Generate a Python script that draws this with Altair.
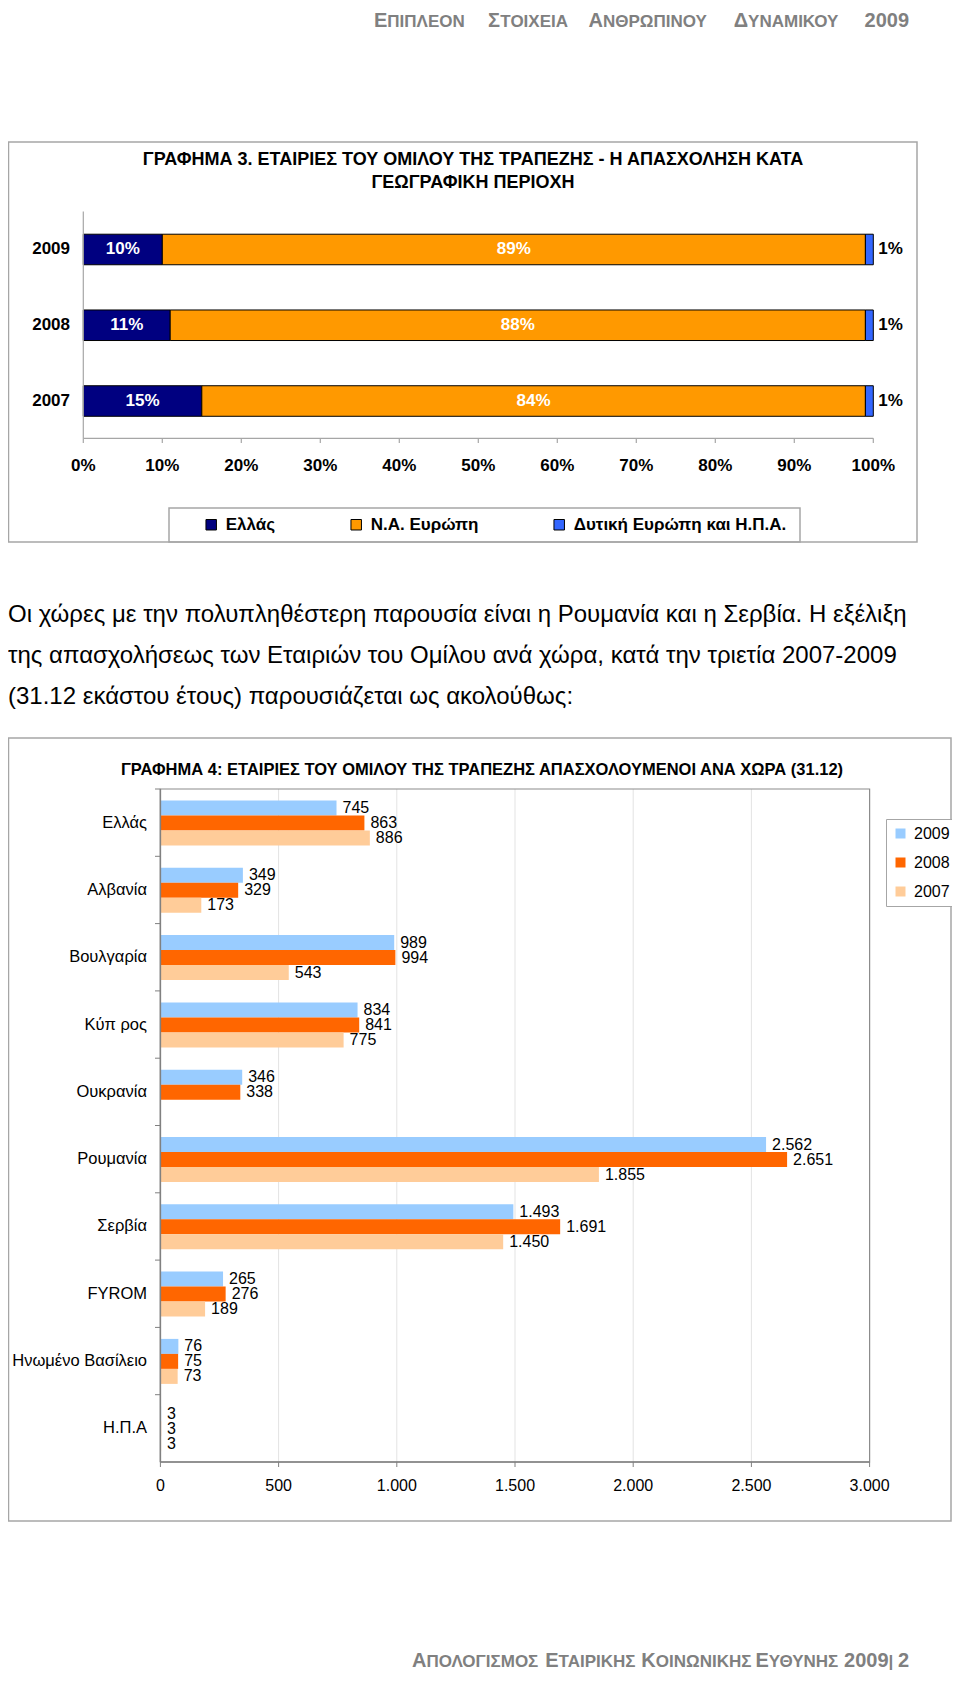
import altair as alt
import pandas as pd

FONT = "Liberation Sans"

# ---------------- Chart 3 data (percent of staff by region) ----------------
years3 = ["2009", "2008", "2007"]
regions3 = ["Ελλάς", "Ν.Α. Ευρώπη", "Δυτική Ευρώπη και Η.Π.Α."]
greece_pct = [10, 11, 15]
se_europe_pct = [89, 88, 84]
west_usa_pct = [1, 1, 1]
region_colors = ["#000080", "#FF9900", "#3366FF"]
pct_ticks = [0, 10, 20, 30, 40, 50, 60, 70, 80, 90, 100]
pct_tick_labels = ["0%", "10%", "20%", "30%", "40%", "50%", "60%", "70%", "80%", "90%", "100%"]

# ---------------- Chart 4 data (staff per country) ----------------
countries = ["Ελλάς", "Αλβανία", "Βουλγαρία", "Κύπ ρος", "Ουκρανία", "Ρουμανία",
             "Σερβία", "FYROM", "Ηνωμένο Βασίλειο", "Η.Π.Α"]
years4 = ["2009", "2008", "2007"]
staff_2009 = [745, 349, 989, 834, 346, 2562, 1493, 265, 76, 3]
staff_2008 = [863, 329, 994, 841, 338, 2651, 1691, 276, 75, 3]
staff_2007 = [886, 173, 543, 775, None, 1855, 1450, 189, 73, 3]
year_colors = ["#99CCFF", "#FF6600", "#FFCC99"]
staff_ticks = [0, 500, 1000, 1500, 2000, 2500, 3000]
staff_tick_labels = ["0", "500", "1.000", "1.500", "2.000", "2.500", "3.000"]

# ---------------- Texts ----------------
header_text = "ΕΠΙΠΛΕΟΝ ΣΤΟΙΧΕΙΑ ΑΝΘΡΩΠΙΝΟΥ ΔΥΝΑΜΙΚΟΥ 2009"
footer_text = "ΑΠΟΛΟΓΙΣΜΟΣ ΕΤΑΙΡΙΚΗΣ ΚΟΙΝΩΝΙΚΗΣ ΕΥΘΥΝΗΣ 2009| 2"
title3_lines = ["ΓΡΑΦΗΜΑ 3. ΕΤΑΙΡΙΕΣ ΤΟΥ ΟΜΙΛΟΥ ΤΗΣ ΤΡΑΠΕΖΗΣ - Η ΑΠΑΣΧΟΛΗΣΗ ΚΑΤΑ",
                "ΓΕΩΓΡΑΦΙΚΗ ΠΕΡΙΟΧΗ"]
title4_text = "ΓΡΑΦΗΜΑ 4: ΕΤΑΙΡΙΕΣ ΤΟΥ ΟΜΙΛΟΥ ΤΗΣ ΤΡΑΠΕΖΗΣ ΑΠΑΣΧΟΛΟΥΜΕΝΟΙ ΑΝΑ ΧΩΡΑ (31.12)"
paragraph_lines = [
    "Οι χώρες με την πολυπληθέστερη παρουσία είναι η Ρουμανία και η Σερβία. Η εξέλιξη",
    "της απασχολήσεως των Εταιριών του Ομίλου ανά χώρα, κατά την τριετία 2007-2009",
    "(31.12 εκάστου έτους) παρουσιάζεται ως ακολούθως:",
]

ONE = pd.DataFrame({"k": [0]})


def page_text(text, x, y, size, weight="normal", align="left", color="black", baseline="alphabetic"):
    return alt.Chart(ONE).mark_text(
        text=text, font=FONT, fontSize=size, fontWeight=weight, align=align,
        baseline=baseline, color=color,
    ).encode(x=alt.value(x), y=alt.value(y))


def frame(x0, x1, y0, y1, color="#A6A6A6", width=1.5):
    return alt.Chart(ONE).mark_rect(filled=False, stroke=color, strokeWidth=width).encode(
        x=alt.value(x0), x2=alt.value(x1), y=alt.value(y0), y2=alt.value(y1))


# approximate Arial Bold advance widths (1/1000 em) for small-caps layout
GW = {"Α": 722, "Β": 722, "Γ": 611, "Δ": 722, "Ε": 667, "Ζ": 611, "Η": 722, "Θ": 778,
      "Ι": 278, "Κ": 722, "Λ": 722, "Μ": 833, "Ν": 722, "Ξ": 667, "Ο": 778, "Π": 722,
      "Ρ": 667, "Σ": 618, "Τ": 611, "Υ": 667, "Φ": 778, "Χ": 667, "Ψ": 834, "Ω": 768,
      " ": 278, "|": 280}


def gw(s):
    return sum(GW.get(c, 556) for c in s) / 1000.0


def smallcaps(text, x0, x1, base, big, small, color):
    layout = []
    cur = 0.0
    for w in text.split(" "):
        pieces = []
        off = 0.0
        if w[0].isalpha():
            pieces.append((w[0], big, off))
            off += gw(w[0]) * big
            if len(w) > 1:
                pieces.append((w[1:], small, off))
                off += gw(w[1:]) * small
        else:
            digits = w.rstrip("|")
            bar = w[len(digits):]
            pieces.append((digits, big, off))
            off += gw(digits) * big
            if bar:
                pieces.append((bar, small, off))
                off += gw(bar) * small
        layout.append((cur, pieces, off))
        cur += off + gw(" ") * small
    last_start, _, last_len = layout[-1]
    f = (x1 - x0 - last_len) / last_start
    out = []
    for start, pieces, _ in layout:
        wx = x0 + start * f
        for t, size, off in pieces:
            out.append(page_text(t, wx + off, base, size, "bold", "left", color))
    return out


# ======================= Chart 3 =======================
rows3 = []
for i, yr in enumerate(years3):
    for k, (reg, vals) in enumerate(zip(regions3, [greece_pct, se_europe_pct, west_usa_pct])):
        rows3.append({"year": yr, "region": reg, "value": vals[i], "order": k})
df3 = pd.DataFrame(rows3)

X3 = alt.Scale(domain=[0, 100], range=[75.3, 865.3])
Y3 = alt.Scale(domain=years3, range=[203.6, 430.9], paddingInner=0.597, paddingOuter=0.2985)

base3 = alt.Chart(df3).transform_stack(
    stack="value", groupby=["year"], as_=["x0", "x1"],
    sort=[alt.SortField("order", order="ascending")],
).transform_calculate(mid="(datum.x0 + datum.x1) / 2", label="datum.value + '%'")

bars3 = base3.mark_bar(stroke="black", strokeWidth=1).encode(
    x=alt.X("x0:Q", scale=X3, axis=None),
    x2="x1:Q",
    y=alt.Y("year:N", scale=Y3, axis=None, sort=years3),
    color=alt.Color(
        "region:N",
        scale=alt.Scale(domain=regions3, range=region_colors),
        legend=alt.Legend(
            title=None, orient="none", legendX=194.7, legendY=508, direction="horizontal",
            columnPadding=72, symbolType="square", symbolSize=110,
            symbolStrokeColor="black", symbolStrokeWidth=1,
            labelFont=FONT, labelFontSize=17, labelFontWeight="bold", labelColor="black",
            labelOffset=6, labelLimit=400, padding=0,
        ),
    ),
)

inner3 = base3.transform_filter("datum.order < 2").mark_text(
    color="white", font=FONT, fontSize=17, fontWeight="bold", baseline="middle"
).encode(
    x=alt.X("mid:Q", scale=X3, axis=None),
    y=alt.Y("year:N", scale=Y3, axis=None, sort=years3),
    text="label:N",
)

outer3 = base3.transform_filter("datum.order == 2").mark_text(
    color="black", font=FONT, fontSize=17, fontWeight="bold", baseline="middle", align="left", dx=5
).encode(
    x=alt.X("x1:Q", scale=X3, axis=None),
    y=alt.Y("year:N", scale=Y3, axis=None, sort=years3),
    text="label:N",
)

yearlab3 = alt.Chart(pd.DataFrame({"year": years3})).mark_text(
    font=FONT, fontSize=17, fontWeight="bold", align="right", baseline="middle", color="black"
).encode(
    x=alt.value(62),
    y=alt.Y("year:N", scale=Y3, axis=None, sort=years3),
    text="year:N",
)

ticks3_df = pd.DataFrame({"t": pct_ticks, "lab": pct_tick_labels})
xaxis3 = alt.Chart(ONE).mark_rule(color="#A6A6A6", strokeWidth=1.2).encode(
    x=alt.X(datum=0, scale=X3, axis=None), x2=alt.X2(datum=100), y=alt.value(430.3))
yaxis3 = alt.Chart(ONE).mark_rule(color="#A6A6A6", strokeWidth=1.2).encode(
    x=alt.X(datum=0, scale=X3, axis=None), y=alt.value(203.6), y2=alt.value(430.3))
ticks3 = alt.Chart(ticks3_df).mark_rule(color="#A6A6A6", strokeWidth=1.2).encode(
    x=alt.X("t:Q", scale=X3, axis=None), y=alt.value(430.3), y2=alt.value(435))
ticklab3 = alt.Chart(ticks3_df).mark_text(
    font=FONT, fontSize=17, fontWeight="bold", color="black", baseline="alphabetic"
).encode(x=alt.X("t:Q", scale=X3, axis=None), y=alt.value(463), text="lab:N")

chart3 = alt.layer(bars3, inner3, outer3, yearlab3, xaxis3, yaxis3, ticks3, ticklab3)

# ======================= Chart 4 =======================
rows4 = []
for yr, vals in zip(years4, [staff_2009, staff_2008, staff_2007]):
    for c, v in zip(countries, vals):
        if v is None:
            continue
        rows4.append({"country": c, "year": yr, "value": v, "label": f"{v:,}".replace(",", ".")})
df4 = pd.DataFrame(rows4)

X4 = alt.Scale(domain=[0, 3000], range=[152.4, 861.6])
Y4 = alt.Scale(domain=countries, range=[781, 1454], paddingInner=0, paddingOuter=0)
YO4 = alt.Scale(domain=years4, range=[11.5, 56.5], paddingInner=0, paddingOuter=0)

ticks4_df = pd.DataFrame({"t": staff_ticks, "lab": staff_tick_labels})
grid4 = alt.Chart(ticks4_df).transform_filter("datum.t > 0").mark_rule(
    color="#E3E3E3", strokeWidth=1).encode(
    x=alt.X("t:Q", scale=X4, axis=None), y=alt.value(781), y2=alt.value(1454))

bars4 = alt.Chart(df4).mark_bar().encode(
    x=alt.X("value:Q", scale=X4, axis=None),
    y=alt.Y("country:N", scale=Y4, axis=None, sort=countries),
    yOffset=alt.YOffset("year:N", scale=YO4, sort=years4),
    color=alt.Color(
        "year:N",
        scale=alt.Scale(domain=years4, range=year_colors),
        legend=alt.Legend(
            title=None, orient="none", legendX=878, legendY=811, direction="vertical",
            symbolType="square", symbolSize=100, symbolStrokeWidth=0,
            labelFont=FONT, labelFontSize=16, labelColor="black", labelOffset=5.5,
            rowPadding=13, padding=6.5, strokeColor="#A6A6A6", fillColor="white",
        ),
    ),
)

labels4 = alt.Chart(df4).mark_text(
    font=FONT, fontSize=16, color="black", align="left", baseline="middle", dx=6
).encode(
    x=alt.X("value:Q", scale=X4, axis=None),
    y=alt.Y("country:N", scale=Y4, axis=None, sort=countries),
    yOffset=alt.YOffset("year:N", scale=YO4, sort=years4),
    text="label:N",
)

countrylab4 = alt.Chart(pd.DataFrame({"country": countries})).mark_text(
    font=FONT, fontSize=16.5, color="black", align="right", baseline="middle"
).encode(
    x=alt.value(139),
    y=alt.Y("country:N", scale=Y4, axis=None, sort=countries),
    text="country:N",
)

frame4 = alt.Chart(ONE).mark_rect(filled=False, stroke="#8C8C8C", strokeWidth=1.2).encode(
    x=alt.X(datum=0, scale=X4, axis=None), x2=alt.X2(datum=3000),
    y=alt.value(781), y2=alt.value(1454))
yaxis4 = alt.Chart(ONE).mark_rule(color="#808080", strokeWidth=1.5).encode(
    x=alt.X(datum=0, scale=X4, axis=None), y=alt.value(781), y2=alt.value(1454))
xaxis4 = alt.Chart(ONE).mark_rule(color="#808080", strokeWidth=1.5).encode(
    x=alt.X(datum=0, scale=X4, axis=None), x2=alt.X2(datum=3000), y=alt.value(1454))
ticks4 = alt.Chart(ticks4_df).mark_rule(color="#808080", strokeWidth=1).encode(
    x=alt.X("t:Q", scale=X4, axis=None), y=alt.value(1454), y2=alt.value(1459))
yticks4 = alt.Chart(pd.DataFrame({"country": countries})).mark_rule(
    color="#808080", strokeWidth=1).encode(
    y=alt.Y("country:N", scale=Y4, axis=None, sort=countries, bandPosition=0),
    x=alt.value(147), x2=alt.value(152.4))
ticklab4 = alt.Chart(ticks4_df).mark_text(
    font=FONT, fontSize=16, color="black", baseline="alphabetic"
).encode(x=alt.X("t:Q", scale=X4, axis=None), y=alt.value(1483), text="lab:N")

chart4 = alt.layer(grid4, bars4, labels4, countrylab4, frame4, yaxis4, xaxis4,
                   ticks4, yticks4, ticklab4)

# ======================= Page texts and frames =======================
texts = []
texts += smallcaps(header_text, 366, 901, 19, 20, 17, "#808080")
texts.append(frame(0.5, 909, 134, 534))
texts.append(frame(161, 792, 500, 534))
texts.append(page_text(title3_lines[0], 465, 157, 18, "bold", "center"))
texts.append(page_text(title3_lines[1], 465, 180, 18, "bold", "center"))
for i, line in enumerate(paragraph_lines):
    texts.append(page_text(line, 0, 614 + 41 * i, 24))
texts.append(frame(0.5, 943, 730, 1513))
texts.append(page_text(title4_text, 474, 767, 16.5, "bold", "center"))
texts += smallcaps(footer_text, 404, 901, 1659, 20, 17, "#808080")

page = alt.layer(*texts, chart3, chart4).resolve_scale(
    x="independent", y="independent", color="independent"
).properties(
    width=944, height=1666, padding=0, autosize=alt.AutoSizeParams(type="none"),
    background="white",
).configure_view(strokeOpacity=0)

page.save("out.html", embed_options={"renderer": "svg", "actions": False})
